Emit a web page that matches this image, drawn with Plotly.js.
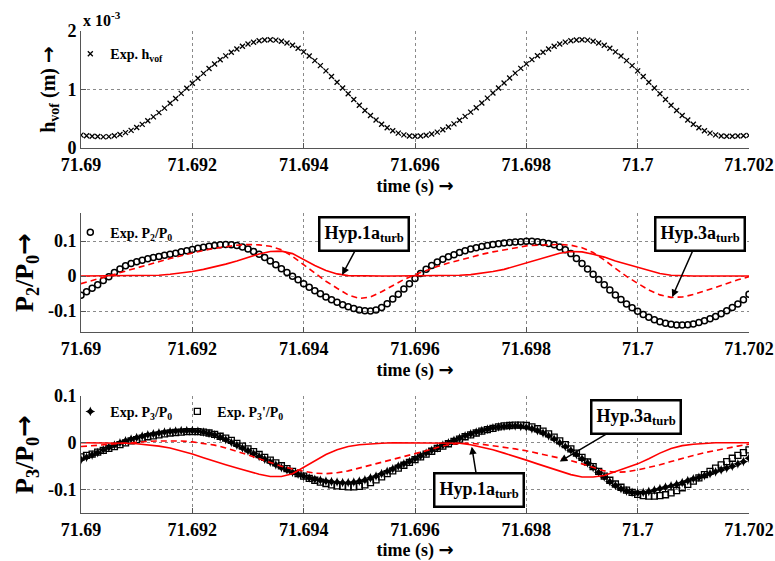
<!DOCTYPE html>
<html><head><meta charset="utf-8">
<script src="https://cdn.plot.ly/plotly-3.0.1.min.js"></script>
<style>html,body{margin:0;padding:0;background:#fff}#chart{width:775px;height:561px}</style>
</head><body><div id="chart"></div>
<script>
// sample times of the experimental series (s)
const T_M = [
71.6900,71.6901,71.6902,71.6903,71.6904,71.6905,71.6906,71.6907,71.6908,71.6909,
71.6910,71.6911,71.6912,71.6913,71.6914,71.6915,71.6916,71.6917,71.6918,71.6919,
71.6920,71.6921,71.6922,71.6923,71.6924,71.6925,71.6926,71.6927,71.6928,71.6929,
71.6930,71.6931,71.6932,71.6933,71.6934,71.6935,71.6936,71.6937,71.6938,71.6939,
71.6940,71.6941,71.6942,71.6943,71.6944,71.6945,71.6946,71.6947,71.6948,71.6949,
71.6950,71.6951,71.6952,71.6953,71.6954,71.6955,71.6956,71.6957,71.6958,71.6959,
71.6960,71.6961,71.6962,71.6963,71.6964,71.6965,71.6966,71.6967,71.6968,71.6969,
71.6970,71.6971,71.6972,71.6973,71.6974,71.6975,71.6976,71.6977,71.6978,71.6979,
71.6980,71.6981,71.6982,71.6983,71.6984,71.6985,71.6986,71.6987,71.6988,71.6989,
71.6990,71.6991,71.6992,71.6993,71.6994,71.6995,71.6996,71.6997,71.6998,71.6999,
71.7000,71.7001,71.7002,71.7003,71.7004,71.7005,71.7006,71.7007,71.7008,71.7009,
71.7010,71.7011,71.7012,71.7013,71.7014,71.7015,71.7016,71.7017,71.7018,71.7019,
71.7020];
// sample times of the model curves (s)
const T_L = [
71.6900,71.6902,71.6904,71.6906,71.6908,71.6910,71.6912,71.6914,71.6916,71.6918,
71.6920,71.6922,71.6924,71.6926,71.6928,71.6930,71.6932,71.6934,71.6936,71.6938,
71.6940,71.6942,71.6944,71.6946,71.6948,71.6950,71.6952,71.6954,71.6956,71.6958,
71.6960,71.6962,71.6964,71.6966,71.6968,71.6970,71.6972,71.6974,71.6976,71.6978,
71.6980,71.6982,71.6984,71.6986,71.6988,71.6990,71.6992,71.6994,71.6996,71.6998,
71.7000,71.7002,71.7004,71.7006,71.7008,71.7010,71.7012,71.7014,71.7016,71.7018,
71.7020];

// Exp. h_vof (x 1e-3 m)
const H_VOF = [
0.22,0.21,0.20,0.195,0.19,0.194,0.208,0.231,0.262,0.301,
0.349,0.403,0.465,0.532,0.605,0.682,0.764,0.847,0.933,1.020,
1.107,1.193,1.276,1.358,1.435,1.508,1.575,1.637,1.691,1.739,
1.778,1.809,1.832,1.846,1.850,1.844,1.826,1.796,1.756,1.704,
1.643,1.572,1.494,1.408,1.318,1.223,1.124,1.025,0.926,0.828,
0.732,0.642,0.556,0.478,0.407,0.346,0.294,0.254,0.224,0.206,
0.200,0.204,0.218,0.240,0.271,0.311,0.358,0.412,0.473,0.540,
0.613,0.689,0.770,0.853,0.939,1.025,1.111,1.197,1.280,1.361,
1.438,1.510,1.577,1.638,1.692,1.739,1.779,1.810,1.832,1.846,
1.850,1.844,1.826,1.796,1.756,1.704,1.643,1.572,1.494,1.408,
1.318,1.223,1.124,1.025,0.926,0.828,0.732,0.642,0.556,0.478,
0.407,0.346,0.294,0.254,0.224,0.206,0.200,0.200,0.205,0.210,
0.215];

// Exp. P2/P0
const P2_EXP = [
-0.055,-0.045,-0.035,-0.025,-0.013,-0.002,0.010,0.020,0.029,0.036,
0.041,0.045,0.049,0.053,0.056,0.059,0.062,0.065,0.069,0.072,
0.076,0.079,0.082,0.085,0.087,0.089,0.090,0.089,0.087,0.083,
0.077,0.070,0.062,0.053,0.043,0.032,0.021,0.010,-0.001,-0.011,
-0.022,-0.032,-0.042,-0.051,-0.060,-0.068,-0.075,-0.082,-0.088,-0.093,
-0.097,-0.099,-0.100,-0.097,-0.090,-0.079,-0.066,-0.052,-0.037,-0.022,
-0.007,0.007,0.019,0.030,0.040,0.048,0.055,0.061,0.067,0.072,
0.077,0.081,0.084,0.087,0.090,0.092,0.094,0.096,0.097,0.098,
0.099,0.099,0.098,0.096,0.093,0.089,0.083,0.075,0.064,0.050,
0.036,0.020,0.005,-0.010,-0.025,-0.040,-0.054,-0.067,-0.080,-0.091,
-0.101,-0.110,-0.118,-0.125,-0.131,-0.135,-0.138,-0.140,-0.140,-0.139,
-0.137,-0.133,-0.128,-0.122,-0.116,-0.108,-0.099,-0.090,-0.080,-0.068,
-0.052];
// Hyp.1a_turb P2/P0 (solid)
const P2_HYP1 = [
0,0,0,0,0,0,0.001,0.002,0.005,0.008,
0.013,0.019,0.026,0.034,0.043,0.053,0.063,0.070,0.071,0.064,
0.047,0.030,0.016,0.006,0.001,0,0,0,0,0,
0,0,0,0.001,0.002,0.004,0.008,0.013,0.019,0.028,
0.038,0.048,0.057,0.065,0.070,0.069,0.062,0.054,0.043,0.034,
0.025,0.015,0.007,0.002,0,0,0,0,0,0,
0];
// Hyp.3a_turb P2/P0 (dashed)
const P2_HYP3 = [
-0.022,-0.013,-0.004,0.006,0.016,0.025,0.034,0.042,0.050,0.058,
0.066,0.073,0.079,0.084,0.088,0.090,0.089,0.085,0.075,0.056,
0.032,0.008,-0.015,-0.035,-0.054,-0.064,-0.060,-0.045,-0.027,-0.010,
0.004,0.016,0.027,0.037,0.046,0.054,0.062,0.069,0.075,0.081,
0.086,0.088,0.090,0.090,0.088,0.081,0.067,0.046,0.022,-0.001,
-0.021,-0.040,-0.054,-0.061,-0.060,-0.053,-0.043,-0.032,-0.021,-0.011,
-0.002];

// Exp. P3/P0
const P3_EXP = [
-0.036,-0.031,-0.026,-0.021,-0.015,-0.010,-0.005,0.000,0.004,0.008,
0.011,0.014,0.017,0.019,0.021,0.023,0.024,0.025,0.026,0.026,
0.026,0.025,0.023,0.020,0.017,0.012,0.007,0.001,-0.005,-0.011,
-0.017,-0.023,-0.029,-0.035,-0.041,-0.047,-0.053,-0.058,-0.063,-0.067,
-0.071,-0.075,-0.078,-0.080,-0.082,-0.083,-0.084,-0.085,-0.085,-0.084,
-0.082,-0.079,-0.075,-0.071,-0.066,-0.061,-0.056,-0.050,-0.045,-0.040,
-0.034,-0.028,-0.022,-0.016,-0.011,-0.005,0.000,0.005,0.010,0.015,
0.019,0.023,0.026,0.029,0.032,0.034,0.035,0.036,0.036,0.035,
0.033,0.030,0.026,0.021,0.015,0.008,0.000,-0.008,-0.016,-0.025,
-0.034,-0.043,-0.053,-0.063,-0.073,-0.083,-0.091,-0.098,-0.103,-0.106,
-0.107,-0.106,-0.104,-0.101,-0.098,-0.095,-0.092,-0.089,-0.085,-0.081,
-0.077,-0.074,-0.070,-0.066,-0.062,-0.058,-0.054,-0.050,-0.045,-0.040,
-0.033];
// Exp. P3'/P0
const P3P_EXP = [
-0.030,-0.027,-0.024,-0.020,-0.016,-0.012,-0.008,-0.004,0.000,0.004,
0.007,0.010,0.013,0.015,0.017,0.019,0.021,0.022,0.023,0.024,
0.024,0.024,0.023,0.021,0.018,0.014,0.010,0.005,-0.001,-0.007,
-0.013,-0.019,-0.025,-0.031,-0.037,-0.043,-0.049,-0.055,-0.061,-0.066,
-0.071,-0.076,-0.080,-0.084,-0.087,-0.090,-0.092,-0.093,-0.094,-0.094,
-0.093,-0.090,-0.085,-0.079,-0.073,-0.066,-0.060,-0.054,-0.048,-0.042,
-0.036,-0.030,-0.024,-0.018,-0.012,-0.007,-0.002,0.003,0.008,0.013,
0.017,0.021,0.025,0.028,0.031,0.034,0.036,0.037,0.038,0.038,
0.037,0.034,0.030,0.025,0.019,0.012,0.004,-0.004,-0.013,-0.022,
-0.031,-0.041,-0.051,-0.061,-0.071,-0.080,-0.088,-0.095,-0.101,-0.106,
-0.110,-0.113,-0.114,-0.114,-0.113,-0.111,-0.107,-0.102,-0.096,-0.089,
-0.082,-0.075,-0.068,-0.061,-0.054,-0.047,-0.040,-0.033,-0.027,-0.021,
-0.015];
// Hyp.1a_turb P3/P0 (solid)
const P3_HYP1 = [
0,0,0,0,-0.001,-0.002,-0.004,-0.007,-0.011,-0.017,
-0.024,-0.032,-0.040,-0.047,-0.054,-0.061,-0.067,-0.072,-0.072,-0.066,
-0.052,-0.038,-0.025,-0.015,-0.008,-0.004,-0.002,-0.001,0,0,
0,0,0,0,-0.001,-0.004,-0.009,-0.015,-0.022,-0.029,
-0.037,-0.045,-0.053,-0.061,-0.068,-0.073,-0.073,-0.070,-0.062,-0.053,
-0.045,-0.034,-0.022,-0.012,-0.006,-0.003,-0.001,0,0,0,
0];
// Hyp.3a_turb P3/P0 (dashed)
const P3_HYP3 = [
-0.008,-0.006,-0.004,-0.002,0.000,0.002,0.003,0.004,0.004,0.004,
0.002,-0.001,-0.005,-0.011,-0.018,-0.026,-0.034,-0.042,-0.050,-0.056,
-0.061,-0.065,-0.066,-0.064,-0.060,-0.054,-0.048,-0.042,-0.036,-0.030,
-0.024,-0.017,-0.010,-0.004,-0.001,-0.001,-0.003,-0.006,-0.009,-0.013,
-0.017,-0.022,-0.027,-0.033,-0.038,-0.045,-0.053,-0.060,-0.063,-0.062,
-0.058,-0.053,-0.047,-0.040,-0.033,-0.027,-0.021,-0.016,-0.011,-0.007,
-0.003];

const X_TICKS = [71.69, 71.692, 71.694, 71.696, 71.698, 71.7, 71.702];
const X_TICK_TEXT = ['71.69','71.692','71.694','71.696','71.698','71.7','71.702'];
const Y1_TICKS = [0, 1, 2];
const Y1_TICK_TEXT = ['0','1','2'];
const YP_TICKS = [-0.1, 0, 0.1];
const YP_TICK_TEXT = ['-0.1','0','0.1'];

const SERIF = '"Liberation Serif", "Times New Roman", serif';
const RED = '#ff0000';
const ARROW = '<span style="font-family:\'DejaVu Sans\'">→</span>';

const traces = [
  {x:T_M, y:H_VOF, xaxis:'x', yaxis:'y', mode:'markers', name:'<b>Exp. h<sub>vof</sub></b>', legend:'legend',
   marker:{symbol:'x-thin', size:5, color:'#000', line:{color:'#000', width:1.3}}},
  {x:T_M, y:P2_EXP, xaxis:'x2', yaxis:'y2', mode:'markers', name:'<b>Exp. P<sub>2</sub>/P<sub>0</sub></b>', legend:'legend2',
   marker:{symbol:'circle-open', size:6, color:'#000', line:{color:'#000', width:1.5}}},
  {x:T_L, y:P2_HYP1, xaxis:'x2', yaxis:'y2', mode:'lines', showlegend:false, line:{color:RED, width:1.6}},
  {x:T_L, y:P2_HYP3, xaxis:'x2', yaxis:'y2', mode:'lines', showlegend:false, line:{color:RED, width:1.6, dash:'6px,4px'}},
  {x:T_M, y:P3_EXP, xaxis:'x3', yaxis:'y3', mode:'markers', name:'<b>Exp. P<sub>3</sub>/P<sub>0</sub></b>', legend:'legend3',
   marker:{symbol:'star-diamond', size:7, color:'#000', line:{width:0}}},
  {x:T_M, y:P3P_EXP, xaxis:'x3', yaxis:'y3', mode:'markers', name:"<b>Exp. P<sub>3</sub>'/P<sub>0</sub></b>", legend:'legend3',
   marker:{symbol:'square-open', size:6, color:'#000', line:{color:'#000', width:1.3}}},
  {x:T_L, y:P3_HYP1, xaxis:'x3', yaxis:'y3', mode:'lines', showlegend:false, line:{color:RED, width:1.6}},
  {x:T_L, y:P3_HYP3, xaxis:'x3', yaxis:'y3', mode:'lines', showlegend:false, line:{color:RED, width:1.6, dash:'6px,4px'}}
];

function xAxis(anchor){
  return {anchor:anchor, domain:[0,1], range:[71.69,71.702], tickmode:'array', tickvals:X_TICKS, ticktext:X_TICK_TEXT,
    showgrid:true, gridcolor:'#8a8a8a', griddash:'dot', gridwidth:1, zeroline:false,
    showline:true, linecolor:'#555', linewidth:1, ticks:'inside', ticklen:5, tickcolor:'#555',
    tickfont:{family:SERIF, size:18, color:'#000', weight:'bold'},
    title:{text:'<b>time (s) '+ARROW+'</b>', font:{family:SERIF, size:18, color:'#000'}, standoff:2}};
}
function yAxis(anchor, domain, range, tv, tt, title, tsize){
  return {anchor:anchor, domain:domain, range:range, tickmode:'array', tickvals:tv, ticktext:tt,
    showgrid:true, gridcolor:'#8a8a8a', griddash:'dot', gridwidth:1, zeroline:false,
    showline:true, linecolor:'#555', linewidth:1, ticks:'inside', ticklen:5, tickcolor:'#555',
    tickfont:{family:SERIF, size:18, color:'#000', weight:'bold'},
    title:{text:title, font:{family:SERIF, size:tsize, color:'#000'}, standoff:6}};
}

function hypBox(text, xref, yref, x, y, ax, ay){
  return {text:'<b>'+text+'</b>', xref:xref, yref:yref, x:x, y:y, ax:ax, ay:ay, axref:'pixel', ayref:'pixel',
    showarrow:true, arrowhead:2, arrowsize:1, arrowwidth:1.5, arrowcolor:'#000',
    font:{family:SERIF, size:18, color:'#000'}, bgcolor:'#fff', bordercolor:'#000', borderwidth:2.5, borderpad:4};
}

const legendCommon = {bgcolor:'rgba(0,0,0,0)', borderwidth:0, font:{family:SERIF, size:14, color:'#000'},
  xanchor:'left', yanchor:'top', tracegroupgap:0, itemsizing:'trace'};

const layout = {
  width:775, height:561, paper_bgcolor:'#fff', plot_bgcolor:'#fff',
  margin:{l:81, r:26, t:31, b:48},
  font:{family:SERIF, color:'#000'},
  xaxis:xAxis('y'), xaxis2:xAxis('y2'), xaxis3:xAxis('y3'),
  yaxis:yAxis('x',[0.7573,1],[0,2],Y1_TICKS,Y1_TICK_TEXT,'<b>h<sub>vof</sub> (m) '+ARROW+'</b>',20),
  yaxis2:yAxis('x2',[0.3755,0.6224],[-0.16,0.18],YP_TICKS,YP_TICK_TEXT,'<b>P<sub>2</sub>/P<sub>0</sub>'+ARROW+'</b>',26),
  yaxis3:yAxis('x3',[0,0.2427],[-0.15,0.1],YP_TICKS,YP_TICK_TEXT,'<b>P<sub>3</sub>/P<sub>0</sub>'+ARROW+'</b>',26),
  legend:Object.assign({}, legendCommon, {x:-0.016, y:0.985}),
  legend2:Object.assign({}, legendCommon, {x:-0.016, y:0.615}),
  legend3:Object.assign({}, legendCommon, {x:-0.016, y:0.243, orientation:'h'}),
  annotations:[
    {text:'<b>x 10<sup>-3</sup></b>', xref:'paper', yref:'paper', x:0, y:1, xanchor:'left', yanchor:'bottom',
     showarrow:false, font:{family:SERIF, size:16, color:'#000'}},
    hypBox('Hyp.1a<sub>turb</sub>','x2','y2',71.69469,0.003,22,-41),
    hypBox('Hyp.3a<sub>turb</sub>','x2','y2',71.70062,-0.06,28,-63),
    hypBox('Hyp.3a<sub>turb</sub>','x3','y3',71.69860,-0.040,76,-45),
    hypBox('Hyp.1a<sub>turb</sub>','x3','y3',71.69702,-0.0085,7,43)
  ]
};

Plotly.newPlot('chart', traces, layout, {displayModeBar:false, staticPlot:true});
</script>
</body></html>
